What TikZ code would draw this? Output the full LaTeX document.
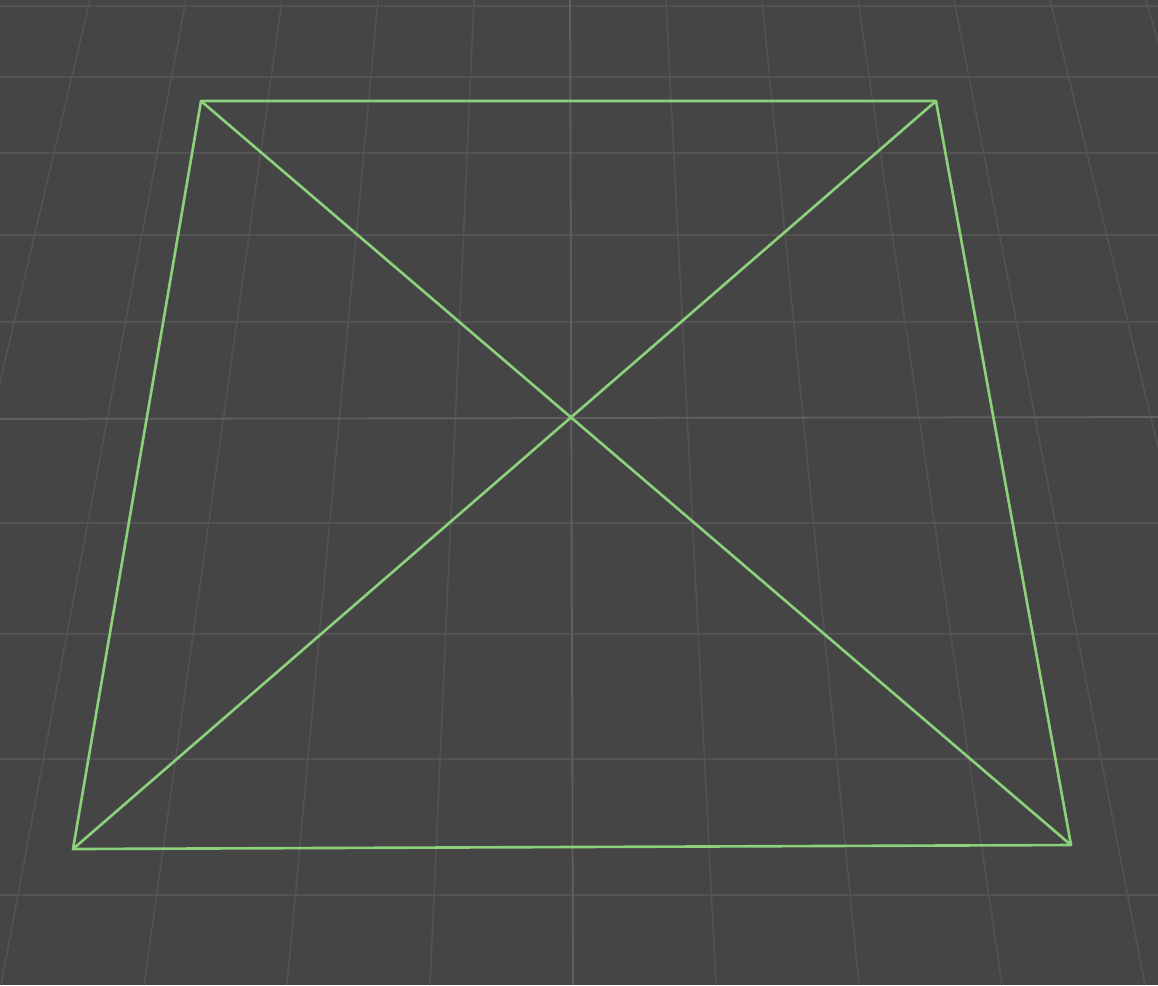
\documentclass[tikz,border=0pt]{standalone}
\usepackage{xcolor}
\usepackage{tikz}
\usetikzlibrary{positioning,calc}

\definecolor{bgcol}{HTML}{454545}
\definecolor{gridcol}{HTML}{535353}
\definecolor{axiscol}{HTML}{606060}
\definecolor{quadcol}{HTML}{8CD27A}

\begin{document}
\begin{tikzpicture}[
        x={(0.02cm,0)}, y={(0,-0.02cm)},
        grid/.style={draw=gridcol, line width=0.9pt},
        axis/.style={draw=axiscol, line width=1pt},
        edge/.style={draw=quadcol, line width=1.5pt, line join=round, line cap=round},
    ]
    \fill[bgcol] (0,0) rectangle (1158,985);
    \useasboundingbox (0,0) rectangle (1158,985);

    % floor grid, converging towards the top
    \foreach \i in {-6,...,-1,1,2,...,6}
        \draw[grid] ({570+\i*96},0) -- ({573+\i*143},985);
    \foreach \y in {6,77,153,235,322,523,634,759,895}
        \draw[grid] (0,\y) -- (1158,\y);
    \draw[axis] (570,0) -- (573,985);
    \draw[axis] (0,419) -- (1158,417);

    % corners of the quad
    \coordinate (tl) at (201,101);
    \coordinate (tr) at (936,101);
    \coordinate (br) at (1071,845);
    \coordinate (bl) at (73,849);

    \draw[edge] (tl) -- (tr) -- (br) -- (bl) -- cycle;
    \draw[edge] (tl) -- (br);
    \draw[edge] (tr) -- (bl);
\end{tikzpicture}
\end{document}
